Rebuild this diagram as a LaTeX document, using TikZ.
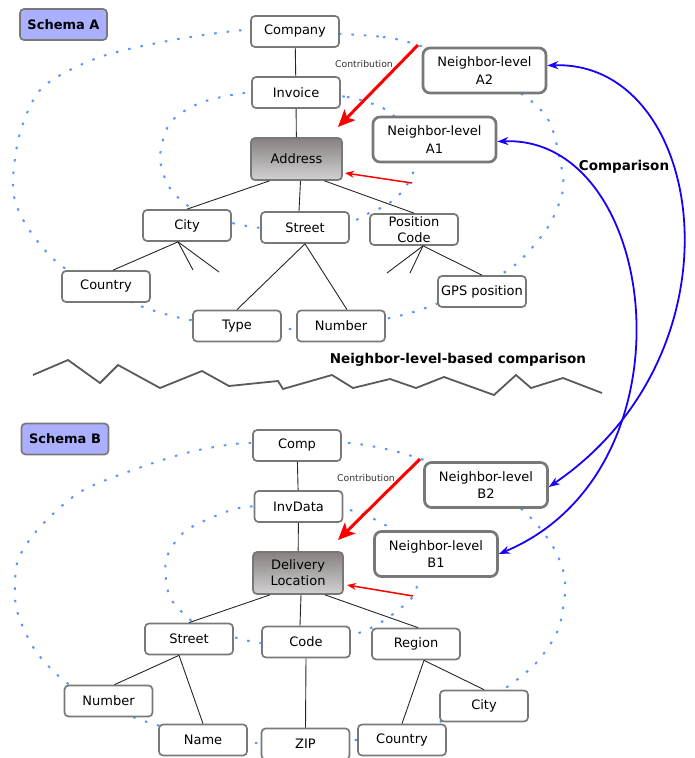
\documentclass[tikz,border=0pt]{standalone}
\usepackage{fontspec}
\setmainfont{DejaVu Sans}
\usetikzlibrary{arrows.meta, backgrounds}
\definecolor{ringblue}{RGB}{85,150,255}
\definecolor{boxgray}{RGB}{120,120,120}
\definecolor{titlefill}{RGB}{170,176,255}
\definecolor{focustop}{RGB}{135,128,128}
\definecolor{focusbot}{RGB}{210,210,210}
\definecolor{cmpblue}{RGB}{25,0,250}
\definecolor{cutgray}{RGB}{90,90,90}

\begin{document}
\begin{tikzpicture}[x=1pt, y=-1pt,
box/.style={draw=boxgray, line width=1.7pt, rounded corners=4pt, fill=white, minimum width=88pt, minimum height=31pt, inner xsep=3pt, inner ysep=1pt, align=center, font=\fontsize{13}{15}\selectfont},
nbox/.style={box, line width=2.7pt, rounded corners=7pt, minimum width=123pt, minimum height=45pt, font=\fontsize{13}{17.5}\selectfont},
focus/.style={box, top color=focustop, bottom color=focusbot, minimum width=91pt, minimum height=42pt},
title/.style={box, fill=titlefill, minimum width=87pt, font=\fontsize{13}{15}\selectfont\bfseries},
tree/.style={line width=0.9pt, black!85},
ring/.style={ringblue, line width=2pt, dash pattern=on 2.5pt off 10pt},
contrib/.style={red, line width=3pt, -{Stealth[length=17pt, width=15pt, inset=4pt]}},
back/.style={red, line width=1.5pt, -{Stealth[length=9pt, width=7pt]}},
compare/.style={cmpblue, line width=1.8pt, {Stealth[length=11pt, width=8pt]}-{Stealth[length=11pt, width=8pt]}},
lbl/.style={font=\fontsize{13.5}{16}\selectfont\bfseries},
small/.style={font=\fontsize{9.3}{11}\selectfont, text=black!80}
]
\useasboundingbox (0,0) rectangle (694,758);

% schema A
\node[title] (ttlA) at (63.5,24.5) {Schema A};
\node[box] (comp) at (295,31.5) {Company};
\node[box] (inv) at (296,92.5) {Invoice};
\node[focus] (addr) at (296.5,159) {Address};
\node[box] (cityA) at (187,225.5) {City};
\node[box] (strA) at (305,227.5) {Street};
\node[box, inner ysep=0pt, font=\fontsize{13}{16}\selectfont] (pos) at (414,229.5) {Position\\Code};
\node[box] (ctryA) at (106,286.5) {Country};
\node[box] (typ) at (237,326) {Type};
\node[box] (numA) at (341,326) {Number};
\node[box] (gps) at (482,291.5) {GPS position};
\node[nbox] (nA2) at (484.5,70.5) {Neighbor-level\\A2};
\node[nbox] (nA1) at (434.5,139.5) {Neighbor-level\\A1};
\node[small] (conA) at (364,64) {Contribution};

\coordinate (stubA1) at (193,270);
\coordinate (stubA2) at (219,272);
\coordinate (stubA3) at (387,273);
\coordinate (stubA4) at (410,273);

\draw[tree] (comp) -- (inv);
\draw[tree] (inv) -- (addr);
\draw[tree] ([xshift=-27pt]addr.south) -- (cityA.north);
\draw[tree] ([xshift=4pt]addr.south) -- ([xshift=-6pt]strA.north);
\draw[tree] ([xshift=28pt]addr.south) -- (pos.north);
\draw[tree] ([xshift=-9pt]cityA.south) -- ([xshift=7pt]ctryA.north);
\draw[tree] ([xshift=-9pt]cityA.south) -- (stubA1);
\draw[tree] ([xshift=-9pt]cityA.south) -- (stubA2);
\draw[tree] (strA.south) -- (typ.north);
\draw[tree] (strA.south) -- ([xshift=6pt]numA.north);
\draw[tree] ([xshift=9pt]pos.south) -- (stubA3);
\draw[tree] ([xshift=9pt]pos.south) -- (stubA4);
\draw[tree] ([xshift=9pt]pos.south) -- (gps.north);

\coordinate (srcA) at (418,45);
\coordinate (tipA) at (338,127);
\coordinate (srcA1) at (412,183);
\coordinate (tipA1) at (345,173);
\draw[contrib] (srcA) -- (tipA);
\draw[back] (srcA1) -- (tipA1);

% schema B
\node[title] (ttlB) at (65,439) {Schema B};
\node[box] (compB) at (297,445.5) {Comp};
\node[box] (invd) at (298.5,506.5) {InvData};
\node[focus, minimum width=90pt, font=\fontsize{13}{16}\selectfont] (deliv) at (298,573) {Delivery\\Location};
\node[nbox] (nB2) at (486,485) {Neighbor-level\\B2};
\node[nbox] (nB1) at (436,554) {Neighbor-level\\B1};
\node[box] (strB) at (189,639) {Street};
\node[box] (code) at (306,642) {Code};
\node[box] (region) at (416,644) {Region};
\node[box] (numB) at (108.5,701) {Number};
\node[box] (name) at (203,740) {Name};
\node[box] (zip) at (305.5,744) {ZIP};
\node[box] (ctryB) at (402,740) {Country};
\node[box] (cityB) at (484,706) {City};
\node[small] (conB) at (366,478) {Contribution};

\draw[tree] (compB) -- (invd);
\draw[tree] (invd) -- (deliv);
\draw[tree] ([xshift=-28pt]deliv.south) -- (strB.north);
\draw[tree] ([xshift=3pt]deliv.south) -- ([xshift=-6pt]code.north);
\draw[tree] ([xshift=27pt]deliv.south) -- ([xshift=2pt]region.north);
\draw[tree] ([xshift=-10pt]strB.south) -- ([xshift=6pt]numB.north);
\draw[tree] ([xshift=-10pt]strB.south) -- (name.north);
\draw[tree] (code.south) -- (zip.north);
\draw[tree] ([xshift=8pt]region.south) -- (ctryB.north);
\draw[tree] ([xshift=8pt]region.south) -- (cityB.north);

\coordinate (srcB) at (420,459);
\coordinate (tipB) at (338,540);
\coordinate (srcB1) at (413,596);
\coordinate (tipB1) at (347,585);
\draw[contrib] (srcB) -- (tipB);
\draw[back] (srcB1) -- (tipB1);

% comparison between the schemas
\node[lbl] (cmp) at (624,167) {Comparison};
\node[lbl] (nlbc) at (458,360) {Neighbor-level-based comparison};
\draw[compare] ([yshift=5pt]nA2.east) .. controls (705,60) and (750,350) .. ([yshift=-2pt]nB2.east);
\draw[compare] ([yshift=-2pt]nA1.east) .. controls (660,135) and (700,470) .. (nB1.east);

\draw[cutgray, line width=1.8pt] (33,375) -- (68,360) -- (100,383) -- (118,365) -- (160,388) -- (202,371) -- (229,386) -- (278,381) -- (283,389) -- (332,375) -- (353,388) -- (390,379) -- (416,388) -- (444,377) -- (494,395) -- (516,375) -- (531,388) -- (563,378) -- (602,393);

% neighbor levels
\begin{pgfonlayer}{background}
\draw[ring] plot[smooth cycle] coordinates {(comp.center) (383,37) (427,48) (485,72) (530,100) (550,123) (560,160) (563,190) (548,227) (515,265) (470,290) (410,313) (341,327) (290,329) (237,325) (185,319) (133,303) (63,267) (28,228) (13,190) (20,133) (43,87) (100,57) (173,40) (245,30)};
\draw[ring] plot[smooth cycle] coordinates {(inv.center) (347,97) (373,104) (392,114) (408,138) (415,165) (405,188) (388,204) (365,215) (350,222) (strA.center) (262,228) (232,223) (205,216) (183,202) (168,185) (160,157) (170,123) (200,103) (245,93)};
\draw[ring] plot[smooth cycle] coordinates {(compB.center) (348,443) (390,450) (430,462) (490,485) (530,517) (552,545) (563,570) (565,593) (558,630) (537,662) (507,687) (470,708) (437,723) (400,735) (355,740) (305,743) (252,743) (203,738) (160,726) (133,717) (108,705) (67,683) (37,653) (20,620) (15,597) (18,560) (40,527) (80,492) (133,470) (190,452) (245,443)};
\draw[ring] plot[smooth cycle] coordinates {(invd.center) (350,510) (390,528) (415,555) (417,585) (410,600) (380,623) (352,635) (code.center) (262,643) (233,637) (205,630) (185,615) (169,595) (166,560) (183,533) (213,517) (245,507)};
\end{pgfonlayer}
\end{tikzpicture}
\end{document}
